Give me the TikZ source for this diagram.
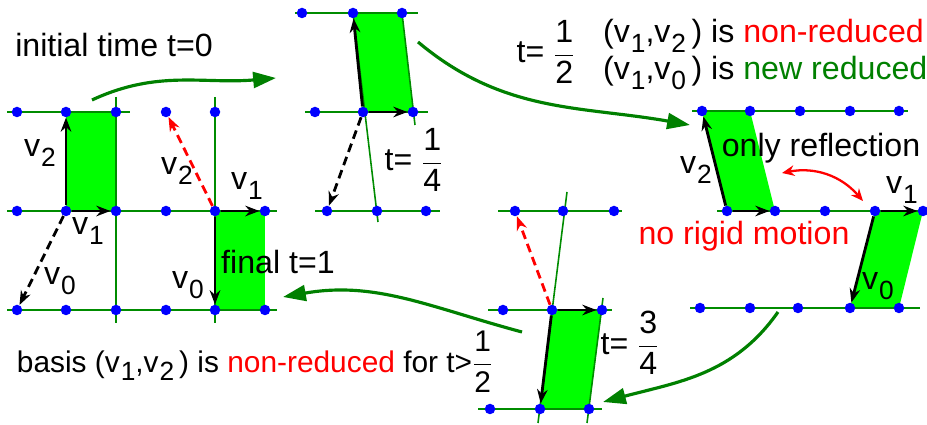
\documentclass[tikz,border=0pt]{standalone}
\usepackage{fontspec}
\setmainfont{Liberation Sans}
\usepackage{amsmath}
\usetikzlibrary{arrows.meta, positioning, calc}

\newcommand{\lv}[1]{v\kern0.03em\raisebox{-0.55ex}{\fontsize{15}{15}\selectfont #1}}
\newcommand{\fr}[2]{$\genfrac{}{}{0.9pt}{0}{\text{#1}}{\text{#2}}$}

\begin{document}
\begin{tikzpicture}[
  x=0.02cm, y=-0.02cm,
  dot/.style={circle, fill=blue, inner sep=0pt, minimum size=0.21cm},
  lat/.style={green!55!black, line width=0.9pt},
  cell/.style={fill=green},
  vec/.style={-{Stealth[length=8pt, width=6pt]}, line width=1.6pt},
  dvec/.style={vec, dash pattern=on 5pt off 3pt},
  rvec/.style={dvec, red},
  move/.style={-{Triangle[length=13pt, width=9pt]}, line width=1.8pt, green!50!black},
  lab/.style={font=\fontsize{18.3}{21}\selectfont, inner sep=1pt, align=center},
]
\useasboundingbox (0,0) rectangle (927,425);

% cells
\fill[cell] (66,112) rectangle (116,211);
\fill[cell] (215,211) rectangle (265,310);
\fill[cell] (353,13) -- (402,13) -- (413,112) -- (363,112) -- cycle;
\fill[cell] (702,111) -- (750,111) -- (775,211) -- (727,211) -- cycle;
\fill[cell] (875,211) -- (923,211) -- (899,308) -- (850,308) -- cycle;
\fill[cell] (552,310) -- (602,310) -- (589,409) -- (540,409) -- cycle;

% lattice lines
\draw[lat] (7,112) -- (130,112);
\draw[lat] (7,211) -- (277,211);
\draw[lat] (7,310) -- (277,310);
\draw[lat] (116,97) -- (116,323);
\draw[lat] (215,97) -- (215,323);
\draw[lat] (295,13) -- (418,13);
\draw[lat] (305,112) -- (428,112);
\draw[lat] (315,211) -- (440,211);
\draw[lat] (353,13) -- (378,222);
\draw[lat] (402,13) -- (415,125);
\draw[lat] (692,111) -- (908,111);
\draw[lat] (717,211) -- (927,211);
\draw[lat] (690,308) -- (920,308);
\draw[lat] (498,211) -- (622,211);
\draw[lat] (488,310) -- (612,310);
\draw[lat] (478,409) -- (602,409);
\draw[lat] (538,423) -- (567,192);
\draw[lat] (603,298) -- (587,423);

% dots
\foreach \x [count=\i] in {17,66,116,166,215} \node[dot] (p1\i) at (\x,112) {};
\foreach \x [count=\i] in {17,66,116,166,215,265} \node[dot] (p2\i) at (\x,211) {};
\foreach \x [count=\i] in {17,66,116,166,215,265} \node[dot] (p3\i) at (\x,310) {};
\foreach \x [count=\i] in {302,353,402} \node[dot] (q1\i) at (\x,13) {};
\foreach \x [count=\i] in {315,363,413} \node[dot] (q2\i) at (\x,112) {};
\foreach \x [count=\i] in {327,377,426} \node[dot] (q3\i) at (\x,211) {};
\foreach \x [count=\i] in {702,750,800,850,899} \node[dot] (r1\i) at (\x,111) {};
\foreach \x [count=\i] in {727,775,825,875,923} \node[dot] (r2\i) at (\x,211) {};
\foreach \x [count=\i] in {700,750,798,850,899} \node[dot] (r3\i) at (\x,308) {};
\foreach \x [count=\i] in {515,563,614} \node[dot] (s1\i) at (\x,211) {};
\foreach \x [count=\i] in {503,552,602} \node[dot] (s2\i) at (\x,310) {};
\foreach \x [count=\i] in {490,540,589} \node[dot] (s3\i) at (\x,409) {};

% basis vectors
\draw[vec] (p22) -- (p12);
\draw[vec] (p22) -- (p23);
\draw[dvec] (p22) -- (p31);
\draw[vec] (p25) -- (p26);
\draw[vec] (p25) -- (p35);
\draw[rvec] (p25) -- (p14);
\draw[vec] (q22) -- (q12);
\draw[vec] (q22) -- (q23);
\draw[dvec] (q22) -- (q31);
\draw[vec] (r21) -- (r11);
\draw[vec] (r21) -- (r22);
\draw[vec] (r24) -- (r25);
\draw[vec] (r24) -- (r34);
\draw[vec] (s22) -- (s23);
\draw[vec] (s22) -- (s32);
\draw[rvec] (s22) -- (s11);

% labels
\node[lab] (init) at (114,45) {initial time t=0};
\node[lab] (fin) at (278,262) {final t=1};
\node[lab] (a2) at (40,153) {\lv2};
\node[lab] (a1) at (88,231) {\lv1};
\node[lab] (a0) at (60,281) {\lv0};
\node[lab] (b2) at (177,171) {\lv2};
\node[lab] (b1) at (247,186) {\lv1};
\node[lab] (b0) at (188,285) {\lv0};
\node[lab] (tq) at (414,160) {t= \fr14};
\node[lab] (th) at (546,52) {t= \fr12};
\node[lab, anchor=west] (nr) at (601,36) {(\lv1,\lv2\,) is \textcolor{red}{non-reduced}};
\node[lab, anchor=west] (rd) at (601,73) {(\lv1,\lv0\,) is \textcolor{green!50!black}{new reduced}};
\node[lab] (c2) at (696,170) {\lv2};
\node[lab] (refl) at (821,148) {only reflection};
\node[lab] (c1) at (902,190) {\lv1};
\node[lab] (c0) at (878,286) {\lv0};
\node[lab, red] (rigid) at (744,236) {no rigid motion};
\node[lab] (ts) at (630,343) {t= \fr34};
\node[lab, font=\fontsize{17}{20}\selectfont] (bas) at (255,362) {basis (\lv1,\lv2\,) is \textcolor{red}{non-reduced} for t>\fr12};

% moves between stages
\coordinate (m1a) at (92,100);  \coordinate (m1b) at (276,78);
\coordinate (m2a) at (418,42);  \coordinate (m2b) at (690,125);
\coordinate (m3a) at (778,312); \coordinate (m3b) at (603,402);
\coordinate (m4a) at (522,332); \coordinate (m4b) at (283,297);
\draw[move] (m1a) to[out=25, in=185] (m1b);
\draw[move] (m2a) to[out=-40, in=170] (m2b);
\draw[move] (m3a) to[out=-125, in=15] (m3b);
\draw[move] (m4a) to[out=165, in=10] (m4b);

\coordinate (ra) at (782,173); \coordinate (rb) at (863,201);
\draw[{Stealth[length=7pt, width=6pt]}-{Stealth[length=7pt, width=6pt]}, red, line width=1.3pt] (ra) to[bend left=30] (rb);
\end{tikzpicture}
\end{document}
